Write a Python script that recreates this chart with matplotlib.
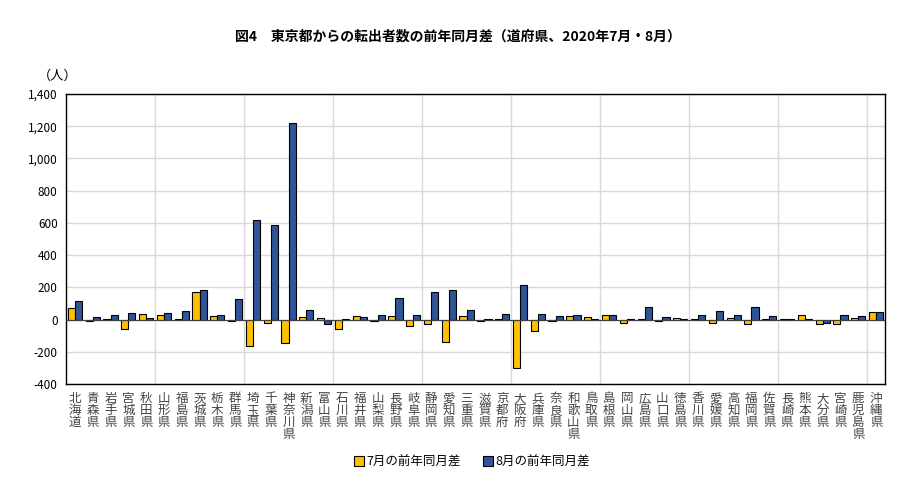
import matplotlib
matplotlib.use("Agg")
import matplotlib.pyplot as plt
import numpy as np
from matplotlib.ticker import FuncFormatter, FixedLocator

plt.rcParams['font.family'] = ['Noto Sans CJK JP', 'DejaVu Sans']

prefectures = ["北海道", "青森県", "岩手県", "宮城県", "秋田県", "山形県", "福島県", "茨城県",
               "栃木県", "群馬県", "埼玉県", "千葉県", "神奈川県", "新潟県", "富山県", "石川県",
               "福井県", "山梨県", "長野県", "岐阜県", "静岡県", "愛知県", "三重県", "滋賀県",
               "京都府", "大阪府", "兵庫県", "奈良県", "和歌山県", "鳥取県", "島根県", "岡山県",
               "広島県", "山口県", "徳島県", "香川県", "愛媛県", "高知県", "福岡県", "佐賀県",
               "長崎県", "熊本県", "大分県", "宮崎県", "鹿児島県", "沖縄県"]

july = [72, -10, 6, -60, 35, 27, 6, 170,
        23, -8, -166, -21, -145, 17, 10, -56,
        23, -12, 23, -39, -25, -141, 23, -6,
        2, -298, -68, -12, 23, 17, 31, -23,
        2, -6, 10, 2, -19, 10, -27, 2,
        6, 31, -29, -29, 10, 50]

august = [114, 17, 31, 41, 10, 41, 54, 184,
          27, 128, 619, 588, 1217, 58, -29, 6,
          17, 29, 135, 31, 170, 184, 58, 4,
          35, 215, 35, 23, 31, 2, 27, 2,
          79, 17, 2, 31, 54, 31, 79, 23,
          6, 2, -21, 27, 23, 50]

series_labels = ["7月の前年同月差", "8月の前年同月差"]
title = "図4　東京都からの転出者数の前年同月差（道府県、2020年7月・8月）"

fig = plt.figure(figsize=(9.16, 4.86), dpi=100)
ax = fig.add_axes([66/916, 1-384/486, (885-66)/916, (384-94)/486])

x = np.arange(len(prefectures))
w = 0.4
c7 = "#FFC000"
c8 = "#2F5597"
ax.bar(x - w/2, july, width=w, color=c7, edgecolor="black", linewidth=0.8, zorder=3, label=series_labels[0])
ax.bar(x + w/2, august, width=w, color=c8, edgecolor="black", linewidth=0.8, zorder=3, label=series_labels[1])
ax.axhline(0, color="#404040", linewidth=0.8, zorder=4)

ax.set_xlim(-0.5, len(prefectures) - 0.5)
ax.set_ylim(-400, 1400)
ax.set_yticks(np.arange(-400, 1401, 200))
ax.yaxis.set_major_formatter(FuncFormatter(lambda v, p: f"{int(v):,}"))
ax.tick_params(axis="y", length=0, labelsize=8.5, pad=6)

ax.set_xticks(x)
ax.set_xticklabels(["\n".join(p) for p in prefectures], fontsize=9, linespacing=0.88, color="#444444", va="top")
ax.tick_params(axis="x", length=0, pad=6)
ax.xaxis.set_minor_locator(FixedLocator(np.arange(4.5, len(prefectures) - 0.5, 5)))
ax.tick_params(axis="x", which="minor", length=0)

ax.grid(axis="y", which="major", color="#d9d9d9", linewidth=1, zorder=0)
ax.grid(axis="x", which="minor", color="#d9d9d9", linewidth=1, zorder=0)
ax.grid(axis="x", which="major", visible=False)
for s in ax.spines.values():
    s.set_color("black")
    s.set_linewidth(1)

fig.text(0.5, 1-37/486, title, ha="center", va="center", fontsize=10, fontweight="bold")
fig.text(38/916, 1-76/486, "（人）", ha="left", va="center", fontsize=9.5)

leg = fig.legend(loc="center", bbox_to_anchor=(0.515, 1-462/486), ncol=2, frameon=False,
                 fontsize=9, handlelength=0.8, handleheight=0.8, handletextpad=0.2, columnspacing=1.8)

fig.savefig("out.png", dpi=100)
